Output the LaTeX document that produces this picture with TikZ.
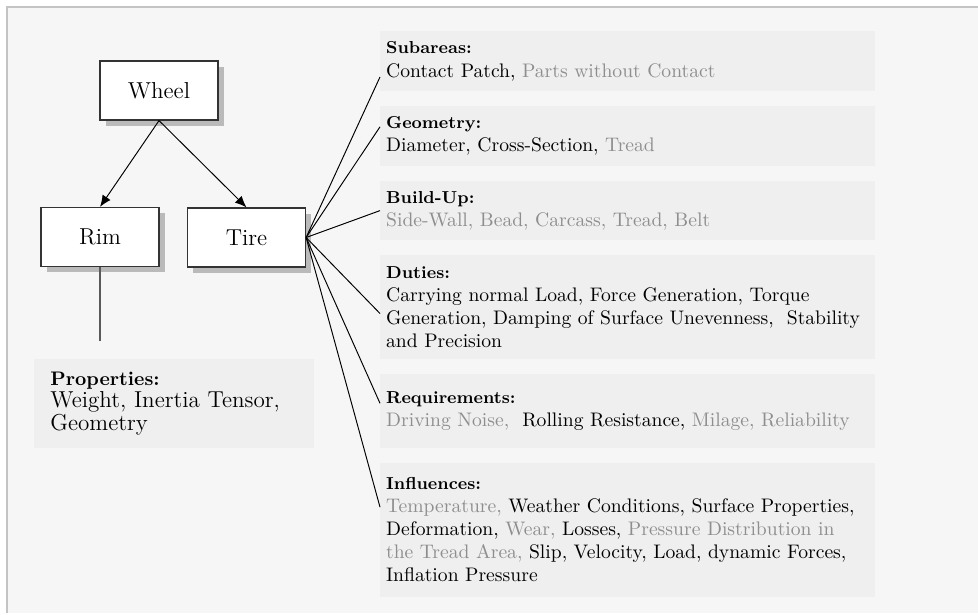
\documentclass[tikz,border=0pt]{standalone}
\usepackage{tikz}
\usetikzlibrary{positioning,shadows,arrows.meta}

\definecolor{pagebg}{HTML}{F6F6F6}
\definecolor{framegray}{HTML}{C4C4C4}
\definecolor{boxbg}{HTML}{EFEFEF}
\definecolor{softtext}{HTML}{8E8E8E}
\newcommand{\soft}[1]{\textcolor{softtext}{#1}}
\newcommand{\headline}[1]{{\fontsize{9}{12}\selectfont\bfseries #1}}

\begin{document}
\begin{tikzpicture}[
        x=0.52pt, y=-0.52pt,
        part node/.style={draw=black!80, fill=white, line width=0.6pt,
            minimum width=61.4pt, minimum height=30.7pt,
            font=\fontsize{12}{14}\selectfont,
            drop shadow={shadow xshift=3pt, shadow yshift=-3pt, fill=black!50}},
        info node/.style={fill=boxbg, text width=251pt, align=left,
            inner xsep=3pt, inner ysep=4.8pt,
            font=\fontsize{10.2}{12}\selectfont},
        tie/.style={black, line width=0.5pt},
    ]

    % page
    \useasboundingbox (0,0) rectangle (978,614);
    \fill[pagebg] (7,7) rectangle (978,613);
    \draw[framegray, line width=0.8pt] (7,613) -- (7,7) -- (978,7);

    % wheel, rim and tire
    \node[part node] (wheel) at (159,90.5) {Wheel};
    \node[part node] (rim) at (100,237) {Rim};
    \node[part node] (tire) at (246.5,237.5) {Tire};

    \draw[tie, -{Latex[length=6pt,width=5pt]}] (wheel.south) -- (rim.north);
    \draw[tie, -{Latex[length=6pt,width=5pt]}] (wheel.south) -- (tire.north);

    % rim properties
    \coordinate (rimend) at (100,341);
    \draw[black!65, line width=0.6pt] (rim.south) -- (rimend);
    \node[fill=boxbg, text width=128pt, align=left, inner xsep=8.8pt,
        minimum height=46.3pt, font=\fontsize{12}{11.7}\selectfont] (props) at (173.5,403.5)
        {{\fontsize{10.2}{11.7}\selectfont\bfseries Properties:}\\Weight, Inertia Tensor,\\Geometry};

    % tire details
    \node[info node, minimum height=31.2pt, anchor=north west] (subareas) at (380,31)
        {\headline{Subareas:}\\Contact Patch, \soft{Parts without Contact}};
    \node[info node, minimum height=31.2pt, below=7.3pt of subareas] (geometry)
        {\headline{Geometry:}\\Diameter, Cross-Section, \soft{Tread}};
    \node[info node, minimum height=30.7pt, below=7.3pt of geometry] (buildup)
        {\headline{Build-Up:}\\\soft{Side-Wall, Bead, Carcass, Tread, Belt}};
    \node[info node, minimum height=54.1pt, below=7.3pt of buildup] (duties)
        {\headline{Duties:}\\Carrying normal Load, Force Generation, Torque\\
        Generation, Damping of Surface Unevenness, \ Stability\\and Precision};
    \node[info node, minimum height=38.5pt, below=7.3pt of duties] (requirements)
        {\headline{Requirements:}\\\soft{Driving Noise,} \ Rolling Resistance, \soft{Milage, Reliability}};
    \node[info node, minimum height=69.7pt, below=7.3pt of requirements] (influences)
        {\headline{Influences:}\\\soft{Temperature,} Weather Conditions, Surface Properties,\\
        Deformation, \soft{Wear,} Losses, \soft{Pressure Distribution in}\\
        \soft{the Tread Area,} Slip, Velocity, Load, dynamic Forces,\\
        Inflation Pressure};

    \foreach \target/\off in {subareas/23.9, geometry/10.9, buildup/15.6,
            duties/30.7, requirements/15.6, influences/23.4}
        \draw[tie] (tire.east) -- ([yshift=-\off pt]\target.north west);
\end{tikzpicture}
\end{document}
